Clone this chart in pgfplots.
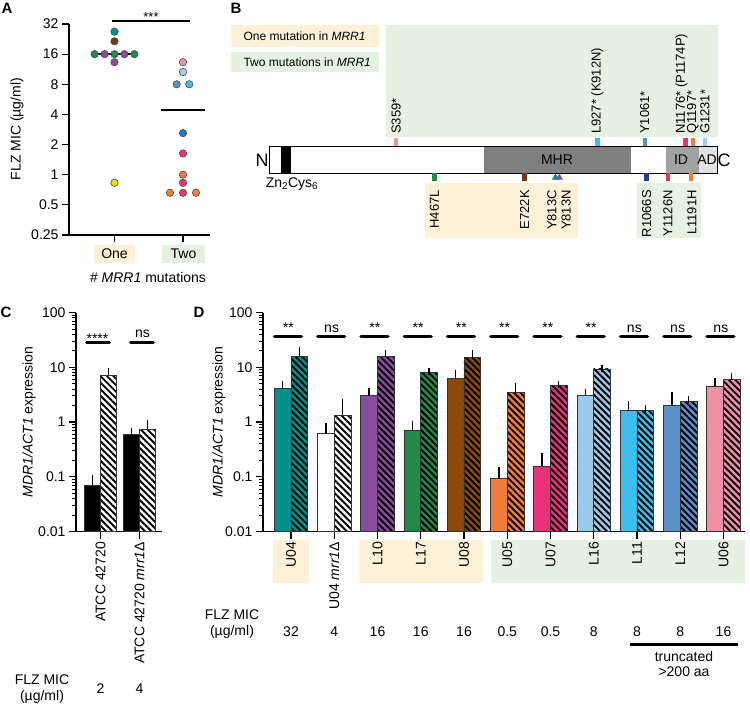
\documentclass[border=0pt]{standalone}
\usepackage{pgfplots}
\pgfplotsset{compat=1.18}
\usetikzlibrary{patterns.meta}
\usepackage{fontspec}
\setmainfont{Liberation Sans}
\newcommand\fs[1]{\fontsize{#1}{#1}\selectfont}
\definecolor{cteal}{HTML}{00918E}
\definecolor{cpurple}{HTML}{8A4D9E}
\definecolor{cgreen}{HTML}{22884C}
\definecolor{cbrown}{HTML}{8B4A08}
\definecolor{cbrownA}{HTML}{6B3C12}
\definecolor{cyellow}{HTML}{F3DB0C}
\definecolor{corange}{HTML}{F07D3B}
\definecolor{cmagenta}{HTML}{E9327A}
\definecolor{clblue}{HTML}{9ECAEA}
\definecolor{csky}{HTML}{3CBFEC}
\definecolor{csteel}{HTML}{5B8FCA}
\definecolor{cpink}{HTML}{EF90A7}
\definecolor{cblue}{HTML}{1E78C8}
\definecolor{cnavy}{HTML}{2B3A8C}
\definecolor{cred}{HTML}{E8393A}
\definecolor{cpale}{HTML}{A8CCEE}
\definecolor{bgy}{HTML}{FDF2D8}
\definecolor{bgg}{HTML}{E6F2E1}
\definecolor{gmhr}{HTML}{808080}
\definecolor{gid}{HTML}{A2A2A2}
\definecolor{gad}{HTML}{E2E2E2}
\pgfplotsset{
  dot/.style={only marks, mark=*, mark size=3.7pt, mark options={fill=#1, draw=black!70, line width=0.6pt}},
  errb/.style={error bars/y dir=plus, error bars/y explicit,
    error bars/error mark=-,
    error bars/error bar style={line width=1.3pt, black, solid},
    error bars/error mark options={mark size=3.6pt, line width=1.3pt, black}},
  sbar/.style={ybar, bar width=16.7pt, bar shift=0pt, draw=black!80, line width=0.8pt, fill=#1, errb},
  hbar/.style={ybar, bar width=16.7pt, bar shift=0pt, draw=black!80, line width=0.8pt, fill=#1, errb,
    postaction={pattern={Lines[angle=-45,distance=4.6pt,line width=1.9pt]}, pattern color=black}},
  csbar/.style={ybar, bar width=16pt, bar shift=0pt, draw=black!80, line width=0.8pt, fill=#1, errb},
  chbar/.style={ybar, bar width=16pt, bar shift=0pt, draw=black!80, line width=0.8pt, fill=#1, errb,
    postaction={pattern={Lines[angle=-45,distance=4.6pt,line width=1.9pt]}, pattern color=black}},
}
\begin{document}
\begin{tikzpicture}[font=\fs{14}]
\useasboundingbox (0pt,0pt) rectangle (750pt,-705pt);
\fill[white] (0pt,0pt) rectangle (750pt,-705pt);
% panel letters
\node[font=\bfseries\fs{15}] at (7pt,-8pt) {A};
\node[font=\bfseries\fs{15}] at (236pt,-8pt) {B};
\node[font=\bfseries\fs{15}] at (6pt,-312.5pt) {C};
\node[font=\bfseries\fs{15}] at (199pt,-312.5pt) {D};
% ---------- Panel B backgrounds and protein ----------
\fill[bgy] (231pt,-25pt) rectangle (379pt,-47pt);
\fill[bgg] (231pt,-52pt) rectangle (379pt,-72pt);
\fill[bgg] (386pt,-25pt) rectangle (718pt,-137pt);
\fill[bgy] (425pt,-183pt) rectangle (578pt,-238pt);
\fill[bgg] (637pt,-183pt) rectangle (701pt,-238pt);
\node[anchor=west,font=\fs{12}] at (240pt,-36pt) {One mutation in \textit{MRR1}};
\node[anchor=west,font=\fs{12}] at (240pt,-62pt) {Two mutations in \textit{MRR1}};
\fill[white] (269pt,-146pt) rectangle (717pt,-173pt);
\fill[black] (281pt,-146pt) rectangle (291pt,-173pt);
\fill[gmhr] (484pt,-146pt) rectangle (631pt,-173pt);
\fill[gid] (666pt,-146pt) rectangle (699pt,-173pt);
\fill[gad] (699pt,-146pt) rectangle (717pt,-173pt);
\draw[line width=0.9pt] (269pt,-146pt) rectangle (717pt,-173pt);
\node at (557pt,-160pt) {MHR};
\node at (681pt,-160pt) {ID};
\node at (707pt,-160pt) {AD};
\node[font=\fs{18}] at (262pt,-160pt) {N};
\node[font=\fs{18}] at (724pt,-160pt) {C};
\node at (292pt,-184pt) {Zn\textsubscript{2}Cys\textsubscript{6}};
% ---------- Panel D label backgrounds ----------
\fill[bgy] (273.4pt,-539.6pt) rectangle (308.6pt,-582.5pt);
\fill[bgy] (359.3pt,-539.6pt) rectangle (483pt,-582.5pt);
\fill[bgg] (491pt,-539.6pt) rectangle (744.7pt,-582.5pt);
% ---------- Panel A ----------
\fill[bgy] (94pt,-245pt) rectangle (135pt,-263pt);
\fill[bgg] (162pt,-245pt) rectangle (205pt,-263pt);
\node at (114.5pt,-254pt) {One};
\node at (183.5pt,-254pt) {Two};
\node at (148pt,-277pt) {\# \textit{MRR1} mutations};
\node[rotate=90] at (17pt,-129pt) {FLZ MIC (µg/ml)};
\begin{axis}[at={(69pt,-235pt)}, anchor=south west, scale only axis,
  width=141pt, height=211pt, ymode=log, log basis y=2, ymin=0.25, ymax=32,
  xmin=0.336, xmax=2.394, axis lines=left, axis line style={-, line width=1.2pt},
  ytick={0.25,0.5,1,2,4,8,16,32}, yticklabels={0.25,0.5,1,2,4,8,16,32},
  xtick={1,2}, xticklabels={}, tick align=outside, major tick length=7pt,
  tick style={line width=1.2pt, black}, yticklabel style={font=\fs{14}}, clip=false]
\addplot[line width=1.6pt] coordinates {(0.715,16) (1.324,16)};
\addplot[line width=1.6pt] coordinates {(1.679,4.4) (2.32,4.4)};
\addplot[line width=1.6pt] coordinates {(0.964,34.3) (2.10,34.3)};
\addplot[dot=cgreen] coordinates {(0.71,16) (1.0,16) (1.29,16)};
\addplot[dot=cpurple] coordinates {(0.855,16) (1.145,16) (1.0,13.3)};
\addplot[dot=cteal] coordinates {(1.0,26.8)};
\addplot[dot=cbrownA] coordinates {(1.0,21.5)};
\addplot[dot=cyellow] coordinates {(1.0,0.83)};
\addplot[dot=cpink] coordinates {(2.0,13.3)};
\addplot[dot=cpale] coordinates {(2.0,10.6)};
\addplot[dot=csteel] coordinates {(1.908,8)};
\addplot[dot=csky] coordinates {(2.092,8)};
\addplot[dot=cblue] coordinates {(2.0,2.6)};
\addplot[dot=cmagenta] coordinates {(2.0,1.63) (2.0,0.83) (2.0,0.66)};
\addplot[dot=corange] coordinates {(2.0,1.0) (1.81,0.66) (2.19,0.66)};
\end{axis}
\node[font=\fs{13}] at (151pt,-17pt) {***};
% ---------- Panel B markers and labels ----------
\begin{axis}[at={(269pt,-240pt)}, anchor=south west, scale only axis,
  width=448pt, height=240pt, xmin=0, xmax=1265, ymin=-240, ymax=0,
  hide axis, clip=false]
\addplot[line width=4.5pt, color=cpink] coordinates {(359,-138) (359,-146)};
\addplot[line width=4.5pt, color=csky] coordinates {(927,-138) (927,-146)};
\addplot[line width=4.5pt, color=csteel] coordinates {(1061,-138) (1061,-146)};
\addplot[line width=4.5pt, color=cmagenta] coordinates {(1176,-138) (1176,-146)};
\addplot[line width=4.5pt, color=corange] coordinates {(1197,-138) (1197,-146)};
\addplot[line width=4.5pt, color=cpale] coordinates {(1231,-138) (1231,-146)};
\addplot[line width=4.5pt, color=cgreen] coordinates {(467,-173) (467,-181)};
\addplot[line width=4.5pt, color=cbrownA] coordinates {(722,-173) (722,-181)};
\addplot[line width=4.5pt, color=cnavy] coordinates {(1066,-173) (1066,-181)};
\addplot[line width=4.5pt, color=cred] coordinates {(1126,-173) (1126,-181)};
\addplot[line width=4.5pt, color=corange] coordinates {(1191,-173) (1191,-181)};
\addplot[only marks, mark=triangle*, mark size=3.6pt, color=cteal] coordinates {(809,-177.5)};
\addplot[only marks, mark=triangle*, mark size=3.6pt, color=cpurple] coordinates {(820,-177.5)};
\begin{scope}[every node/.style={font=\fs{13}, inner sep=0pt, rotate=90}]
\node[anchor=west] at (axis cs:359,-134) {S359*};
\node[anchor=west] at (axis cs:927,-134) {L927* (K912N)};
\node[anchor=west] at (axis cs:1061,-134) {Y1061*};
\node[anchor=west] at (axis cs:1165,-134) {N1176* (P1174P)};
\node[anchor=west] at (axis cs:1197,-134) {Q1197*};
\node[anchor=west] at (axis cs:1231,-134) {G1231*};
\node[anchor=east] at (axis cs:467,-190) {H467L};
\node[anchor=east] at (axis cs:722,-190) {E722K};
\node[anchor=east] at (axis cs:799,-190) {Y813C};
\node[anchor=east] at (axis cs:839,-190) {Y813N};
\node[anchor=east] at (axis cs:1066,-190) {R1066S};
\node[anchor=east] at (axis cs:1126,-190) {Y1126N};
\node[anchor=east] at (axis cs:1194,-190) {L1191H};
\end{scope}
\end{axis}
% ---------- Panel C ----------
\node[rotate=90] at (29pt,-422pt) {\textit{MDR1/ACT1} expression};
\begin{axis}[at={(76pt,-531.5pt)}, anchor=south west, width=86pt,
  scale only axis, height=219pt, ymode=log, log origin y=infty,
  ymin=0.01, ymax=100, axis lines=left, axis line style={-, line width=1.2pt},
  ytick={0.01,0.1,1,10,100}, yticklabels={0.01,0.1,1,10,100},
  minor ytick={0.02,0.03,0.04,0.05,0.06,0.07,0.08,0.09,0.2,0.3,0.4,0.5,0.6,0.7,0.8,0.9,2,3,4,5,6,7,8,9,20,30,40,50,60,70,80,90},
  tick align=outside, major tick length=7pt, minor tick length=4pt,
  tick style={line width=1.1pt, black}, minor tick style={line width=0.8pt},
  xticklabel style={rotate=90, anchor=east, font=\fs{14}},
  yticklabel style={font=\fs{14}}, clip=false,
  xmin=0.372, xmax=2.577, xtick={1,2},
  xticklabels={ATCC 42720, ATCC 42720 \textit{mrr1}Δ}]
\addplot[csbar=black] coordinates {(0.795,0.070) +- (0,0.024)};
\addplot[chbar=white] coordinates {(1.205,7.2) +- (0,1.2)};
\addplot[csbar=black] coordinates {(1.795,0.60) +- (0,0.07)};
\addplot[chbar=white] coordinates {(2.205,0.745) +- (0,0.205)};
\draw[line width=3.5pt, line cap=round] (axis cs:0.648,28.1) -- (axis cs:1.224,28.1);
\draw[line width=3.5pt, line cap=round] (axis cs:1.776,28.1) -- (axis cs:2.352,28.1);
\end{axis}
\node[anchor=base] at (97.5pt,-343pt) {****};
\node[anchor=base] at (142.5pt,-337.3pt) {ns};
\node at (42pt,-679.5pt) {FLZ MIC};
\node at (42pt,-697pt) {(µg/ml)};
\node at (100.5pt,-689pt) {2};
\node at (139.5pt,-689pt) {4};
% ---------- Panel D ----------
\node[rotate=90] at (219pt,-422pt) {\textit{MDR1/ACT1} expression};
\begin{axis}[at={(263pt,-531.5pt)}, anchor=south west, width=482.1pt,
  scale only axis, height=219pt, ymode=log, log origin y=infty,
  ymin=0.01, ymax=100, axis lines=left, axis line style={-, line width=1.2pt},
  ytick={0.01,0.1,1,10,100}, yticklabels={0.01,0.1,1,10,100},
  minor ytick={0.02,0.03,0.04,0.05,0.06,0.07,0.08,0.09,0.2,0.3,0.4,0.5,0.6,0.7,0.8,0.9,2,3,4,5,6,7,8,9,20,30,40,50,60,70,80,90},
  tick align=outside, major tick length=7pt, minor tick length=4pt,
  tick style={line width=1.1pt, black}, minor tick style={line width=0.8pt},
  xticklabel style={rotate=90, anchor=east, font=\fs{14}},
  yticklabel style={font=\fs{14}}, clip=false,
  xmin=-0.647, xmax=10.5, xtick={0,1,2,3,4,5,6,7,8,9,10},
  xticklabels={U04, U04 \textit{mrr1}Δ, L10, L17, U08, U05, U07, L16, L11, L12, U06}]
\addplot[sbar=cteal] coordinates {(-0.193,4.12) +- (0,0.64)};
\addplot[hbar=cteal] coordinates {(0.193,15.9) +- (0,4.1)};
\addplot[sbar=white] coordinates {(0.807,0.61) +- (0,0.22)};
\addplot[hbar=white] coordinates {(1.193,1.33) +- (0,0.94)};
\addplot[sbar=cpurple] coordinates {(1.807,3.02) +- (0,0.62)};
\addplot[hbar=cpurple] coordinates {(2.193,15.5) +- (0,2.1)};
\addplot[sbar=cgreen] coordinates {(2.807,0.69) +- (0,0.19)};
\addplot[hbar=cgreen] coordinates {(3.193,8.05) +- (0,0.35)};
\addplot[sbar=cbrown] coordinates {(3.807,6.2) +- (0,1.6)};
\addplot[hbar=cbrown] coordinates {(4.193,15.3) +- (0,2.3)};
\addplot[sbar=corange] coordinates {(4.807,0.092) +- (0,0.038)};
\addplot[hbar=corange] coordinates {(5.193,3.43) +- (0,1.06)};
\addplot[sbar=cmagenta] coordinates {(5.807,0.155) +- (0,0.075)};
\addplot[hbar=cmagenta] coordinates {(6.193,4.70) +- (0,0.12)};
\addplot[sbar=clblue] coordinates {(6.807,3.10) +- (0,0.39)};
\addplot[hbar=clblue] coordinates {(7.193,9.3) +- (0,0.25)};
\addplot[sbar=csky] coordinates {(7.807,1.62) +- (0,0.43)};
\addplot[hbar=csky] coordinates {(8.193,1.62) +- (0,0.14)};
\addplot[sbar=csteel] coordinates {(8.807,2.03) +- (0,0.99)};
\addplot[hbar=csteel] coordinates {(9.193,2.37) +- (0,0.17)};
\addplot[sbar=cpink] coordinates {(9.807,4.56) +- (0,0.84)};
\addplot[hbar=cpink] coordinates {(10.193,6.05) +- (0,0.65)};
\begin{scope}[line width=3.5pt, line cap=round]
\draw (axis cs:-0.38,36.1) -- (axis cs:0.24,36.1);
\draw (axis cs:0.62,36.1) -- (axis cs:1.24,36.1);
\draw (axis cs:1.62,36.1) -- (axis cs:2.24,36.1);
\draw (axis cs:2.62,36.1) -- (axis cs:3.24,36.1);
\draw (axis cs:3.62,36.1) -- (axis cs:4.24,36.1);
\draw (axis cs:4.62,36.1) -- (axis cs:5.24,36.1);
\draw (axis cs:5.62,36.1) -- (axis cs:6.24,36.1);
\draw (axis cs:6.62,36.1) -- (axis cs:7.24,36.1);
\draw (axis cs:7.62,36.1) -- (axis cs:8.24,36.1);
\draw (axis cs:8.62,36.1) -- (axis cs:9.24,36.1);
\draw (axis cs:9.62,36.1) -- (axis cs:10.24,36.1);
\end{scope}
\begin{scope}[every node/.style={anchor=base}]
\node at (axis cs:-0.06,44) {**};
\node at (axis cs:0.94,44) {ns};
\node at (axis cs:1.94,44) {**};
\node at (axis cs:2.94,44) {**};
\node at (axis cs:3.94,44) {**};
\node at (axis cs:4.94,44) {**};
\node at (axis cs:5.94,44) {**};
\node at (axis cs:6.94,44) {**};
\node at (axis cs:7.94,44) {ns};
\node at (axis cs:8.94,44) {ns};
\node at (axis cs:9.94,44) {ns};
\end{scope}
\end{axis}
\node at (232pt,-615pt) {FLZ MIC};
\node at (232pt,-632pt) {(µg/ml)};
\node at (291pt,-632pt) {32};
\node at (334.25pt,-632pt) {4};
\node at (377.5pt,-632pt) {16};
\node at (420.75pt,-632pt) {16};
\node at (464pt,-632pt) {16};
\node at (507.25pt,-632pt) {0.5};
\node at (550.5pt,-632pt) {0.5};
\node at (593.75pt,-632pt) {8};
\node at (637pt,-632pt) {8};
\node at (680.25pt,-632pt) {8};
\node at (723.5pt,-632pt) {16};
\draw[line width=3.4pt] (630pt,-644.7pt) -- (738pt,-644.7pt);
\node at (684pt,-656pt) {truncated};
\node at (684pt,-672pt) {>200 aa};
\end{tikzpicture}
\end{document}
